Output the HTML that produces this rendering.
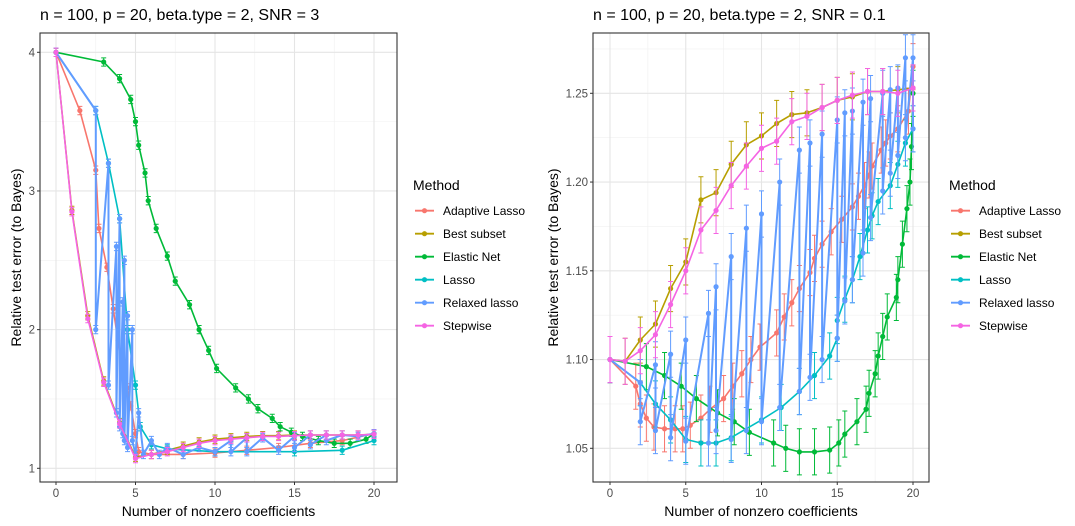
<!DOCTYPE html>
<html><head><meta charset="utf-8"><style>
body{margin:0;background:#fff;}
svg{display:block;font-family:"Liberation Sans",Arial,sans-serif;}
</style></head><body>
<svg id="c" width="1075" height="526" xmlns="http://www.w3.org/2000/svg"></svg>
<script>
const methods = ["Adaptive Lasso","Best subset","Elastic Net","Lasso","Relaxed lasso","Stepwise"];
const colors = ["#F8766D","#B79F00","#00BA38","#00BFC4","#619CFF","#F564E3"];

// Left panel: SNR = 3
const L_adaX = [0,1.5,2.5,2.7,3.2,3.6,3.9,4.2,4.5,4.7,5,5.2,6,8,10,12,14,16,18,20];
const L_adaY = [4,3.58,3.15,2.73,2.45,2.15,1.92,1.72,1.58,1.45,1.25,1.12,1.1,1.1,1.11,1.13,1.15,1.18,1.2,1.25];
const L_bsX = [0,1,2,3,4,5,6,7,8,9,10,11,12,13,14,15,16,17,18,19,20];
const L_bsY = [4,2.86,2.1,1.63,1.33,1.08,1.1,1.13,1.16,1.19,1.21,1.22,1.23,1.235,1.235,1.24,1.24,1.24,1.24,1.24,1.245];
const L_enX = [0,3,4,4.7,5,5.2,5.6,5.8,6.3,7,7.5,8.4,9,9.6,10.1,11.3,12.1,12.7,13.6,14.1,14.8,15.5,16.5,17.5,18.5,19.5,20];
const L_enY = [4,3.93,3.81,3.66,3.5,3.33,3.13,2.93,2.73,2.53,2.35,2.18,2.0,1.85,1.72,1.58,1.5,1.43,1.36,1.3,1.26,1.23,1.2,1.18,1.18,1.21,1.25];
const L_laX = [0,2.5,3.3,4,4.5,5,5.3,6,7,10,15,18,20];
const L_laY = [4,3.58,3.2,2.8,2.0,1.6,1.3,1.17,1.14,1.12,1.12,1.13,1.2];
const L_rlX = [0,2.5,2.5,3.3,3.3,3.8,3.8,4,4,4.2,4.2,4.3,4.3,4.5,4.5,4.8,4.8,5,5.2,5.5,6,6.5,7,8,9,10,11,11,12,12,13,14,15,15,16,16,17,17,18,19,20];
const L_rlY = [4,3.58,2.0,3.2,1.6,2.6,1.4,2.8,1.3,2.2,1.25,2.5,1.2,2.1,1.15,2.0,1.2,1.1,1.4,1.1,1.2,1.1,1.15,1.1,1.15,1.12,1.2,1.12,1.22,1.12,1.22,1.13,1.23,1.15,1.24,1.17,1.24,1.2,1.24,1.23,1.25];
const L_swX = [0,1,2,3,4,5,6,7,8,9,10,11,12,13,14,15,16,17,18,19,20];
const L_swY = [4,2.85,2.08,1.62,1.32,1.07,1.1,1.12,1.15,1.18,1.2,1.21,1.22,1.23,1.23,1.235,1.24,1.24,1.24,1.24,1.245];
const L_err = 0.03;

// Right panel: SNR = 0.1
const R_adaX = [0,1.7,2,2.4,2.9,3.6,4.3,4.8,5.3,6,6.6,7.5,8.1,8.7,9.3,9.9,11,11.5,12,12.5,13.2,13.5,14,14.6,15.3,16,16.4,16.8,17.1,17.3,17.9,18.2,18.5,19,19.7,20];
const R_adaY = [1.1,1.085,1.075,1.067,1.062,1.061,1.061,1.061,1.063,1.067,1.072,1.078,1.085,1.092,1.1,1.107,1.115,1.124,1.132,1.14,1.149,1.157,1.165,1.172,1.179,1.186,1.192,1.198,1.204,1.209,1.218,1.222,1.226,1.23,1.24,1.265];
const R_bsX = [0,1,2,3,4,5,6,7,8,9,10,11,12,13,14,15,16,17,18,19,20];
const R_bsY = [1.1,1.099,1.111,1.12,1.14,1.155,1.19,1.194,1.21,1.221,1.226,1.233,1.238,1.239,1.242,1.246,1.248,1.251,1.251,1.252,1.253];
const R_enX = [0,2.4,3.6,4.7,5.7,7.1,8.2,9.2,10.8,11.6,12.5,13.5,14.5,15.1,15.5,16.3,16.9,17.1,17.5,17.7,18,18.3,18.9,19,19.3,19.6,19.8,19.9,20];
const R_enY = [1.1,1.096,1.091,1.085,1.078,1.07,1.065,1.059,1.053,1.05,1.048,1.048,1.049,1.053,1.058,1.065,1.072,1.081,1.092,1.102,1.113,1.124,1.135,1.145,1.165,1.185,1.2,1.22,1.25];
const R_laX = [0,2,3,4,5,6,7,8,10,11.3,12.5,13.5,14.5,15,15,15.5,16,16.5,17,17.3,17.7,18.5,19,19.5,20];
const R_laY = [1.1,1.087,1.075,1.066,1.055,1.053,1.053,1.056,1.066,1.073,1.082,1.091,1.102,1.112,1.122,1.134,1.145,1.158,1.173,1.181,1.189,1.198,1.21,1.222,1.23];
const R_rlX = [0,2,2,3,3,4,4,5,5,6.5,6.5,7,7,8,8,9,9,10,10,11.2,11.2,12.5,12.5,13.2,13.2,14,14,15,15,15.5,15.5,16,16,16.7,16.7,17.2,17.2,18,18,18.5,18.5,19,19,19.5,19.5,20,20];
const R_rlY = [1.1,1.087,1.065,1.097,1.06,1.103,1.056,1.111,1.054,1.126,1.053,1.141,1.06,1.158,1.055,1.174,1.06,1.182,1.065,1.2,1.073,1.218,1.082,1.222,1.09,1.227,1.1,1.235,1.112,1.239,1.133,1.24,1.145,1.245,1.16,1.247,1.18,1.25,1.195,1.252,1.205,1.253,1.215,1.27,1.225,1.27,1.23];
const R_swX = [0,1,2,3,4,5,6,7,8,9,10,11,12,13,14,15,16,17,18,19,20];
const R_swY = [1.1,1.099,1.105,1.114,1.131,1.15,1.173,1.184,1.198,1.209,1.219,1.223,1.234,1.237,1.242,1.246,1.249,1.251,1.251,1.25,1.253];
const R_err = 0.013;

const leftTicksY = [1,2,3,4];
const rightTicksY = [1.05,1.10,1.15,1.20,1.25];
const ticksX = [0,5,10,15,20];

const NS = "http://www.w3.org/2000/svg";
const svg = document.getElementById("c");
function mk(tag, attrs, parent){const e=document.createElementNS(NS,tag);for(const k in attrs)e.setAttribute(k,attrs[k]);(parent||svg).appendChild(e);return e;}

function panel(p){
  const g = mk("g",{});
  
  
  const sx = v => p.px0 + (v - 0) * (p.px20 - p.px0) / 20;
  const sy = v => p.py1 + (v - p.v1) * (p.py2 - p.py1) / (p.v2 - p.v1);
  const minorY = [];
  for(let i=0;i<p.ticksY.length;i++){ if(i<p.ticksY.length-1) minorY.push((p.ticksY[i]+p.ticksY[i+1])/2); }
  minorY.push(p.ticksY[p.ticksY.length-1] + (p.ticksY[1]-p.ticksY[0])/2);
  minorY.forEach(v=>{ const y=sy(v); if(y>p.top&&y<p.bot){ const l=mk("line",{x1:p.left,x2:p.right,y1:y,y2:y,stroke:"#f0f0f0","stroke-width":0.6},g);   }});
  [2.5,7.5,12.5,17.5].forEach(v=>{ const x=sx(v); const l=mk("line",{x1:x,x2:x,y1:p.top,y2:p.bot,stroke:"#f0f0f0","stroke-width":0.6},g);   });
  p.ticksY.forEach(v=>{ const y=sy(v);
    const l=mk("line",{x1:p.left,x2:p.right,y1:y,y2:y,stroke:"#e5e5e5","stroke-width":1.1},g);  
    const tk=mk("line",{x1:p.left-3,x2:p.left,y1:y,y2:y,stroke:"#333","stroke-width":1},g);  
    const t=mk("text",{x:p.left-5,y:y+4,"text-anchor":"end","font-size":"11.5",fill:"#4d4d4d"},g); t.textContent=p.fmt(v);  
  });
  ticksX.forEach(v=>{ const x=sx(v);
    const l=mk("line",{x1:x,x2:x,y1:p.top,y2:p.bot,stroke:"#e5e5e5","stroke-width":1.1},g);  
    const tk=mk("line",{x1:x,x2:x,y1:p.bot,y2:p.bot+3,stroke:"#333","stroke-width":1},g);  
    const t=mk("text",{x:x,y:p.bot+15,"text-anchor":"middle","font-size":"11.5",fill:"#4d4d4d"},g); t.textContent=v;  
  });
  p.series.forEach((s,i)=>{
    const sg = mk("g",{},g);
    
    
    const col = colors[i];
    const pts = s.x.map((xv,j)=>sx(xv).toFixed(1)+","+sy(s.y[j]).toFixed(1)).join(" ");
    const pl = mk("polyline",{points:pts,fill:"none",stroke:col,"stroke-width":i===4?2:1.6,"stroke-linejoin":"round"},sg);
    
    
    s.x.forEach((xv,j)=>{
      const x=sx(xv), y=sy(s.y[j]), yt=sy(s.y[j]+p.err), yb=sy(s.y[j]-p.err);
      const eb = mk("path",{d:`M${x},${yt}V${yb}M${x-2.5},${yt}H${x+2.5}M${x-2.5},${yb}H${x+2.5}`,stroke:col,"stroke-width":1,fill:"none"},sg);
      
      
      const c = mk("circle",{cx:x,cy:y,r:2.6,fill:col},sg);
      
      
    });
  });
  const fr = mk("rect",{x:p.left,y:p.top,width:p.right-p.left,height:p.bot-p.top,fill:"none",stroke:"#333","stroke-width":1.1},g);
   
  const tt = mk("text",{x:p.left,y:20,"font-size":"16",fill:"#000"},g); tt.textContent=p.title;
   
  const xt = mk("text",{x:(p.left+p.right)/2,y:516,"text-anchor":"middle","font-size":"14",fill:"#000"},g); xt.textContent="Number of nonzero coefficients";
   
  const cy=(p.top+p.bot)/2;
  const yt = mk("text",{x:p.ytx,y:cy,"text-anchor":"middle","font-size":"14",fill:"#000",transform:`rotate(-90 ${p.ytx} ${cy})`},g); yt.textContent="Relative test error (to Bayes)";
   
  const lg = mk("g",{},g);
   
  const lt = mk("text",{x:p.legX,y:190,"font-size":"14",fill:"#000"},lg); lt.textContent="Method";
   
  methods.forEach((m,i)=>{
    const y=210.7+i*23;
    const e = mk("g",{},lg);
     
    mk("line",{x1:p.legX+2,x2:p.legX+21,y1:y,y2:y,stroke:colors[i],"stroke-width":1.8},e);
    mk("circle",{cx:p.legX+11.5,cy:y,r:2.6,fill:colors[i]},e);
    const t=mk("text",{x:p.legX+30,y:y+4.3,"font-size":"12",fill:"#000"},e); t.textContent=m;
  });
}

panel({name:"left-panel",title:"n = 100, p = 20, beta.type = 2, SNR = 3",left:40,right:397,top:33,bot:482,px0:56,px20:374,v1:1,py1:468.3,v2:4,py2:52.3,
  ticksY:leftTicksY,fmt:v=>String(v),err:L_err,ytx:21,legX:413,
  series:[{x:L_adaX,y:L_adaY},{x:L_bsX,y:L_bsY},{x:L_enX,y:L_enY},{x:L_laX,y:L_laY},{x:L_rlX,y:L_rlY},{x:L_swX,y:L_swY}]});
panel({name:"right-panel",title:"n = 100, p = 20, beta.type = 2, SNR = 0.1",left:593,right:929,top:33,bot:482,px0:610,px20:913,v1:1.05,py1:448.3,v2:1.25,py2:93.3,
  ticksY:rightTicksY,fmt:v=>v.toFixed(2),err:R_err,ytx:558,legX:949,
  series:[{x:R_adaX,y:R_adaY},{x:R_bsX,y:R_bsY},{x:R_enX,y:R_enY},{x:R_laX,y:R_laY},{x:R_rlX,y:R_rlY},{x:R_swX,y:R_swY}]});
</script>
</body></html>
